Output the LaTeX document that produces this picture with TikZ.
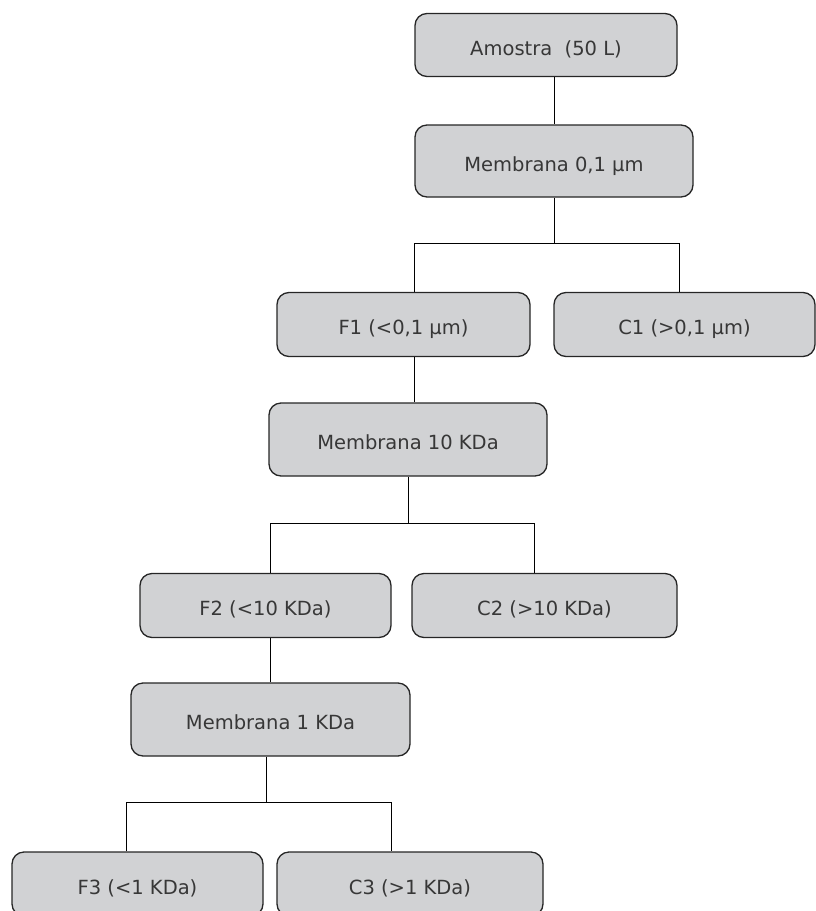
\documentclass[tikz,border=0pt]{standalone}
\usepackage{fontspec}
\setmainfont{DejaVu Sans}
\usepackage{tikz}
\usetikzlibrary{positioning}
\definecolor{boxgray}{RGB}{209,210,212}
\definecolor{txtgray}{RGB}{55,55,55}

\begin{document}
\begin{tikzpicture}
  [x=1pt,y=-1pt,line width=1pt,every node/.style={rectangle,rounded corners=12pt,draw=black!85,fill=boxgray,line width=1.3pt,text=txtgray,font=\fontsize{19.5}{23}\selectfont,minimum height=64pt,inner sep=0pt,text height=22pt,text depth=2pt}]

  \useasboundingbox (0,0) rectangle (816,911);
  \clip (0,0) rectangle (816,911);

  \node[minimum width=262pt,minimum height=63pt] (am) at (546,45) {Amostra\ \ (50 L)};
  \node[minimum width=278pt,minimum height=72pt] (m01) at (554,161) {Membrana 0,1 µm};
  \node[minimum width=253pt] (f1) at (403.5,324.5) {F1 (<0,1 µm)};
  \node[minimum width=261pt] (c1) at (684.5,324.5) {C1 (>0,1 µm)};
  \node[minimum width=278pt,minimum height=73pt] (m10) at (408,439.5) {Membrana 10 KDa};
  \node[minimum width=251pt] (f2) at (265.5,605.5) {F2 (<10 KDa)};
  \node[minimum width=265pt] (c2) at (544.5,605.5) {C2 (>10 KDa)};
  \node[minimum width=279pt,minimum height=73pt] (m1) at (270.5,719.5) {Membrana 1 KDa};
  \node[minimum width=251pt] (f3) at (137.5,884) {F3 (<1 KDa)};
  \node[minimum width=266pt] (c3) at (410,884) {C3 (>1 KDa)};

  \coordinate (b1l) at (414,243);
  \coordinate (b1r) at (679,243);
  \coordinate (b2l) at (270,523);
  \coordinate (b2r) at (534,523);
  \coordinate (b3l) at (126,802);
  \coordinate (b3m) at (266,802);
  \coordinate (b3r) at (391,802);

  \draw (m01.north |- am.south) -- (m01.north);
  \draw (m01.south) -- (m01.south |- b1l);
  \draw (b1l |- f1.north) -- (b1l) -- (b1r) -- (b1r |- c1.north);
  \draw (b1l |- f1.south) -- (b1l |- m10.north);
  \draw (m10.south) -- (m10.south |- b2l);
  \draw (b2l |- f2.north) -- (b2l) -- (b2r) -- (b2r |- c2.north);
  \draw (b2l |- f2.south) -- (b2l |- m1.north);
  \draw (b3m |- m1.south) -- (b3m);
  \draw (b3l |- f3.north) -- (b3l) -- (b3r) -- (b3r |- c3.north);
\end{tikzpicture}
\end{document}
